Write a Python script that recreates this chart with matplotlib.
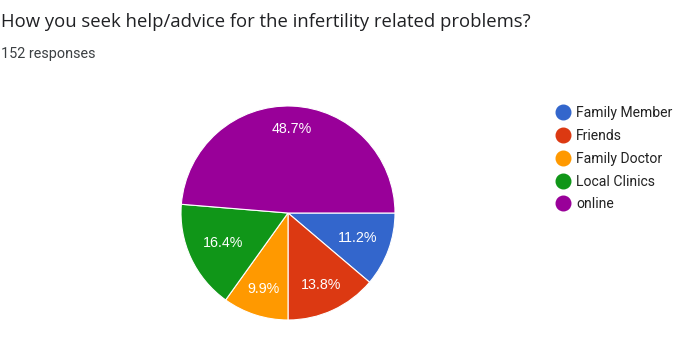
import matplotlib.pyplot as plt
from matplotlib.lines import Line2D

# survey answers, in the order google forms lists them
labels = ['Family Member', 'Friends', 'Family Doctor', 'Local Clinics', 'online']
shares = [11.2, 13.8, 9.9, 16.4, 48.7]
colours = ['#3366cc', '#dc3912', '#ff9900', '#109618', '#990099']

title = 'How you seek help/advice for the infertility related problems?'
subtitle = '152 responses'

# label distance from centre for each wedge (google nudges them a bit)
label_dist = [0.69, 0.74, 0.75, 0.67, 0.79]

W, H = 689, 347
fig = plt.figure(figsize=(W / 100, H / 100), dpi=100)

fig.text(1 / W, 1 - 22 / H, title, fontsize=13.3, family='Open Sans',
         color='#202124', va='center', ha='left')
fig.text(1 / W, 1 - 54 / H, subtitle, fontsize=10.4, family='Roboto',
         color='#3c4043', va='center', ha='left')

# pie centre ~ (288, 213) px, radius ~107 px
cx, cy, r = 288, 213, 107
ax = fig.add_axes([(cx - r) / W, (H - cy - r) / H, 2 * r / W, 2 * r / H])

wedges, texts, autotexts = ax.pie(
    shares, colors=colours, startangle=0, counterclock=False,
    autopct='%1.1f%%', pctdistance=0.72,
    wedgeprops={'edgecolor': 'white', 'linewidth': 0.8},
    textprops={'color': 'white', 'fontsize': 10.3, 'family': 'Liberation Sans'})
ax.set_aspect('equal')
ax.set_xlim(-1, 1)
ax.set_ylim(-1, 1)

# move percentage labels to their own radius
for t, d in zip(autotexts, label_dist):
    x, y = t.get_position()
    rr = (x ** 2 + y ** 2) ** 0.5
    t.set_position((x / rr * d, y / rr * d))

handles = [Line2D([], [], marker='o', linestyle='', markersize=10.5,
                  markerfacecolor=c, markeredgecolor=c) for c in colours]
fig.legend(handles, labels, loc='upper left',
           bbox_to_anchor=(556 / W, 1 - 106 / H), frameon=False,
           handlelength=1.0, handletextpad=0.45, labelspacing=0.63,
           prop={'family': 'Roboto', 'size': 10.1}, labelcolor='#222222',
           borderaxespad=0, borderpad=0)

fig.savefig('out.png', dpi=100)
